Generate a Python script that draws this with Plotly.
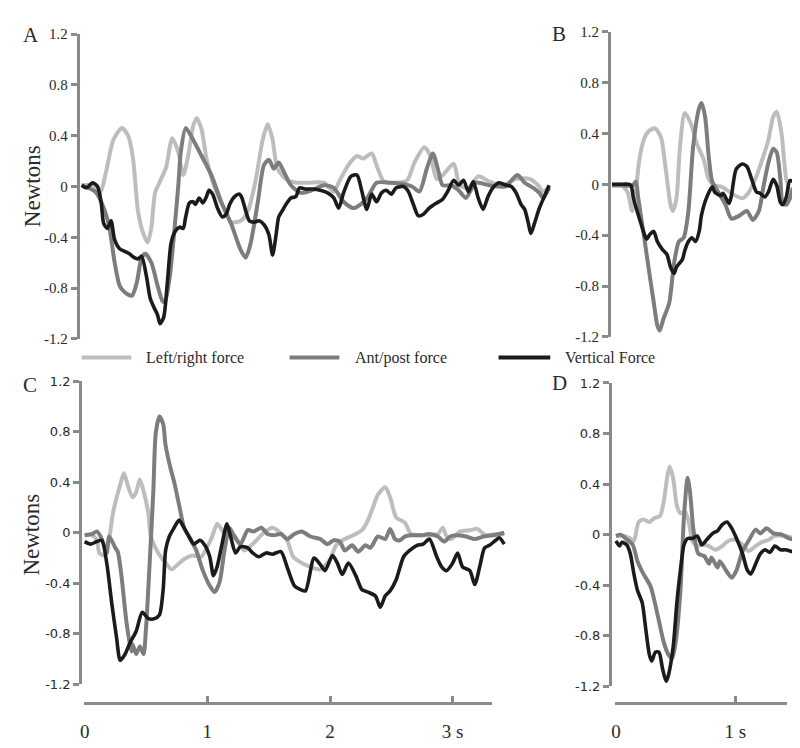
import plotly.graph_objects as go

# ---------------- data (time in s, force in N) ----------------
a_lr = [(0,0.01),(0.08,0.01),(0.15,-0.05),(0.20,0.12),(0.26,0.37),(0.33,0.46),(0.38,0.40),(0.42,0.22),
        (0.46,-0.19),(0.50,-0.36),(0.54,-0.44),(0.57,-0.32),(0.60,-0.05),(0.65,0.06),(0.69,0.15),(0.74,0.38),
        (0.79,0.27),(0.83,0.09),(0.87,0.24),(0.91,0.47),(0.94,0.54),(0.98,0.45),(1.02,0.22),(1.08,0.01),
        (1.17,-0.19),(1.22,-0.28),(1.30,-0.27),(1.36,-0.19),(1.42,0.04),(1.48,0.37),(1.52,0.49),(1.56,0.37),
        (1.60,0.14),(1.68,0.05),(1.76,0.03),(1.86,0.03),(1.98,0.03),(2.06,-0.04),(2.11,0.05),(2.18,0.17),
        (2.25,0.24),(2.30,0.22),(2.37,0.26),(2.42,0.14),(2.47,0.04),(2.57,0.03),(2.66,0.05),(2.72,0.19),
        (2.80,0.31),(2.85,0.24),(2.90,0.06),(2.95,0.09),(3.04,0.18),(3.09,0.01),(3.16,-0.01),(3.24,0.08),
        (3.33,0.04),(3.44,0.01),(3.55,0.06),(3.66,0.06),(3.73,0.01),(3.77,-0.04),(3.82,0.0)]
a_ap = [(0,0.01),(0.11,-0.04),(0.16,-0.12),(0.22,-0.29),(0.27,-0.60),(0.31,-0.78),(0.35,-0.83),(0.41,-0.86),
        (0.45,-0.76),(0.49,-0.56),(0.52,-0.53),(0.57,-0.60),(0.62,-0.78),(0.66,-0.90),(0.68,-0.91),(0.72,-0.71),
        (0.76,-0.32),(0.79,0.01),(0.81,0.27),(0.85,0.46),(0.91,0.37),(0.98,0.24),(1.06,0.09),(1.14,-0.12),
        (1.22,-0.29),(1.30,-0.50),(1.34,-0.56),(1.38,-0.45),(1.44,-0.12),(1.49,0.17),(1.53,0.21),(1.57,0.14),
        (1.61,0.19),(1.65,0.12),(1.71,0.01),(1.79,-0.05),(1.88,-0.03),(1.98,0.01),(2.06,-0.01),(2.14,-0.12),
        (2.22,-0.17),(2.28,-0.14),(2.34,-0.08),(2.41,0.03),(2.52,0.03),(2.63,0.02),(2.70,0.0),(2.76,-0.04),
        (2.82,0.14),(2.87,0.26),(2.91,0.14),(2.95,0.01),(3.02,0.01),(3.08,-0.03),(3.14,-0.09),(3.22,0.03),
        (3.33,0.01),(3.46,0.0),(3.56,0.09),(3.62,0.03),(3.69,-0.01),(3.74,-0.05),(3.77,-0.09),(3.82,-0.01)]
a_vt = [(0,0.01),(0.04,-0.01),(0.09,0.03),(0.13,0.0),(0.16,-0.13),(0.18,-0.29),(0.21,-0.33),(0.24,-0.27),
        (0.27,-0.42),(0.31,-0.49),(0.35,-0.51),(0.39,-0.53),(0.43,-0.56),(0.46,-0.57),(0.49,-0.55),(0.53,-0.71),
        (0.56,-0.88),(0.59,-0.95),(0.62,-1.01),(0.64,-1.08),(0.67,-1.03),(0.70,-0.76),(0.73,-0.45),(0.76,-0.36),
        (0.80,-0.32),(0.83,-0.33),(0.85,-0.24),(0.88,-0.13),(0.91,-0.12),(0.93,-0.14),(0.96,-0.09),(0.99,-0.13),
        (1.02,-0.08),(1.04,-0.03),(1.07,-0.06),(1.11,-0.17),(1.15,-0.24),(1.18,-0.22),(1.21,-0.14),(1.25,-0.08),
        (1.29,-0.06),(1.31,-0.09),(1.34,-0.19),(1.37,-0.27),(1.41,-0.28),(1.45,-0.27),(1.49,-0.30),(1.53,-0.38),
        (1.56,-0.54),(1.59,-0.37),(1.61,-0.24),(1.64,-0.19),(1.67,-0.14),(1.71,-0.09),(1.75,-0.08),(1.78,-0.01),
        (1.83,-0.02),(1.89,-0.02),(1.95,-0.03),(2.01,-0.05),(2.06,-0.09),(2.10,-0.17),(2.14,-0.05),(2.20,0.08),
        (2.25,0.09),(2.29,-0.04),(2.33,-0.18),(2.37,-0.06),(2.41,-0.12),(2.45,-0.05),(2.49,-0.03),(2.53,-0.06),
        (2.57,-0.01),(2.63,0.0),(2.67,-0.04),(2.71,-0.14),(2.75,-0.23),(2.79,-0.22),(2.84,-0.17),(2.90,-0.13),
        (2.95,-0.10),(2.99,-0.04),(3.04,0.05),(3.08,0.01),(3.12,0.05),(3.16,-0.04),(3.20,0.04),(3.24,-0.09),
        (3.28,-0.18),(3.32,-0.08),(3.36,-0.01),(3.41,0.03),(3.47,0.01),(3.51,0.0),(3.55,-0.05),(3.59,-0.14),
        (3.62,-0.18),(3.65,-0.29),(3.67,-0.37),(3.70,-0.29),(3.74,-0.17),(3.78,-0.08),(3.82,0.01)]

b_lr = [(0,-0.01),(0.07,0.0),(0.13,-0.06),(0.17,-0.21),(0.20,-0.05),(0.23,0.20),(0.27,0.36),(0.31,0.42),
        (0.36,0.44),(0.41,0.37),(0.45,0.12),(0.49,-0.16),(0.51,-0.21),(0.54,-0.11),(0.57,0.30),(0.61,0.56),
        (0.66,0.48),(0.71,0.32),(0.77,0.19),(0.81,0.04),(0.86,-0.01),(0.92,-0.02),(1.00,-0.07),(1.09,-0.11),
        (1.14,-0.07),(1.20,0.04),(1.25,0.17),(1.31,0.35),(1.35,0.53),(1.38,0.57),(1.42,0.40),(1.46,0.04),
        (1.50,-0.06),(1.56,-0.01),(1.57,-0.02)]
b_ap = [(0,-0.01),(0.09,-0.01),(0.17,-0.01),(0.20,0.02),(0.22,-0.11),(0.27,-0.42),(0.31,-0.68),(0.35,-0.93),
        (0.38,-1.11),(0.40,-1.15),(0.43,-1.06),(0.48,-0.93),(0.52,-0.62),(0.56,-0.45),(0.60,-0.42),(0.64,-0.21),
        (0.68,0.30),(0.73,0.60),(0.75,0.64),(0.78,0.53),(0.81,0.22),(0.84,0.02),(0.89,-0.06),(0.95,-0.16),
        (1.00,-0.27),(1.06,-0.25),(1.13,-0.21),(1.18,-0.28),(1.23,-0.21),(1.27,-0.01),(1.31,0.17),(1.35,0.28),
        (1.38,0.25),(1.41,0.04),(1.43,-0.15),(1.46,-0.16),(1.49,-0.11),(1.53,-0.01),(1.57,-0.02)]
b_vt = [(0,0.0),(0.06,0.0),(0.14,0.0),(0.16,-0.01),(0.18,-0.11),(0.23,-0.27),(0.27,-0.39),(0.29,-0.43),
        (0.32,-0.39),(0.35,-0.37),(0.38,-0.45),(0.42,-0.51),(0.46,-0.55),(0.49,-0.65),(0.52,-0.70),(0.54,-0.65),
        (0.59,-0.59),(0.61,-0.52),(0.64,-0.45),(0.67,-0.42),(0.70,-0.45),(0.73,-0.37),(0.75,-0.24),(0.79,-0.11),
        (0.84,-0.02),(0.86,-0.06),(0.91,-0.09),(0.93,-0.07),(0.98,-0.15),(1.00,-0.09),(1.04,0.12),(1.09,0.16),
        (1.13,0.14),(1.17,0.04),(1.21,-0.06),(1.24,-0.07),(1.28,-0.10),(1.31,-0.06),(1.35,0.04),(1.38,-0.01),
        (1.41,-0.14),(1.43,-0.16),(1.46,-0.10),(1.49,0.03),(1.52,0.02),(1.54,-0.02),(1.57,-0.02)]

c_lr = [(0,-0.02),(0.06,-0.02),(0.10,-0.06),(0.12,-0.16),(0.16,-0.18),(0.20,-0.05),(0.23,0.15),(0.29,0.38),
        (0.32,0.47),(0.35,0.38),(0.39,0.28),(0.42,0.32),(0.45,0.42),(0.48,0.33),(0.52,0.15),(0.54,-0.03),
        (0.60,-0.16),(0.66,-0.24),(0.71,-0.29),(0.76,-0.25),(0.81,-0.21),(0.88,-0.18),(0.95,-0.19),(1.00,-0.11),
        (1.04,-0.03),(1.08,0.07),(1.12,0.02),(1.16,-0.03),(1.21,-0.01),(1.30,-0.14),(1.38,-0.08),(1.46,0.0),
        (1.53,0.04),(1.57,0.02),(1.65,-0.06),(1.70,-0.19),(1.77,-0.24),(1.84,-0.27),(1.92,-0.29),(2.00,-0.21),
        (2.05,-0.10),(2.12,-0.05),(2.19,-0.02),(2.26,0.02),(2.31,0.10),(2.35,0.20),(2.39,0.30),(2.45,0.36),
        (2.49,0.28),(2.54,0.12),(2.61,0.08),(2.66,-0.01),(2.75,-0.02),(2.81,-0.02),(2.88,-0.01),(2.92,0.04),
        (2.95,-0.03),(2.99,-0.05),(3.06,0.01),(3.14,0.02),(3.20,0.03),(3.27,-0.02),(3.36,-0.01),(3.42,-0.01)]
c_ap = [(0,-0.02),(0.06,-0.01),(0.10,0.01),(0.14,-0.05),(0.18,-0.16),(0.20,-0.03),(0.25,-0.12),(0.27,-0.15),
        (0.30,-0.34),(0.34,-0.70),(0.38,-0.94),(0.39,-0.88),(0.42,-0.96),(0.45,-0.90),(0.48,-0.96),(0.50,-0.76),
        (0.53,-0.24),(0.56,0.33),(0.58,0.79),(0.61,0.92),(0.64,0.86),(0.66,0.69),(0.70,0.51),(0.73,0.40),
        (0.77,0.22),(0.81,0.04),(0.85,-0.03),(0.91,-0.14),(0.96,-0.29),(1.02,-0.42),(1.06,-0.47),(1.10,-0.39),
        (1.14,-0.14),(1.18,0.04),(1.22,-0.03),(1.27,-0.09),(1.33,0.02),(1.38,0.01),(1.44,0.04),(1.49,-0.01),
        (1.54,-0.02),(1.60,-0.01),(1.65,-0.05),(1.71,-0.01),(1.77,0.01),(1.84,-0.03),(1.92,-0.05),(1.98,-0.09),
        (2.03,-0.06),(2.08,-0.07),(2.12,-0.14),(2.18,-0.10),(2.23,-0.15),(2.29,-0.10),(2.33,-0.12),(2.39,-0.03),
        (2.45,-0.05),(2.49,0.03),(2.53,-0.05),(2.57,-0.06),(2.61,-0.03),(2.66,-0.02),(2.75,-0.02),(2.81,-0.01),
        (2.88,-0.03),(2.93,-0.07),(2.98,-0.03),(3.03,-0.02),(3.11,-0.03),(3.18,-0.05),(3.25,-0.03),(3.33,-0.02),
        (3.42,0.0)]
c_vt = [(0,-0.07),(0.05,-0.09),(0.10,-0.07),(0.14,-0.06),(0.18,-0.24),(0.22,-0.55),(0.26,-0.83),(0.29,-1.01),
        (0.33,-0.96),(0.37,-0.87),(0.42,-0.78),(0.47,-0.63),(0.52,-0.68),(0.57,-0.68),(0.61,-0.65),(0.64,-0.45),
        (0.66,-0.14),(0.69,-0.03),(0.73,0.04),(0.77,0.10),(0.81,0.04),(0.85,-0.03),(0.89,-0.09),(0.94,-0.06),
        (0.98,-0.10),(1.02,-0.19),(1.05,-0.34),(1.08,-0.27),(1.12,-0.09),(1.16,0.07),(1.19,-0.03),(1.23,-0.16),
        (1.27,-0.11),(1.33,-0.12),(1.37,-0.16),(1.42,-0.19),(1.48,-0.16),(1.53,-0.17),(1.60,-0.15),(1.65,-0.27),
        (1.71,-0.42),(1.76,-0.45),(1.80,-0.46),(1.87,-0.20),(1.92,-0.25),(1.96,-0.30),(2.02,-0.18),(2.06,-0.24),
        (2.10,-0.33),(2.15,-0.24),(2.21,-0.34),(2.26,-0.45),(2.31,-0.47),(2.37,-0.50),(2.41,-0.59),(2.45,-0.50),
        (2.49,-0.46),(2.54,-0.37),(2.60,-0.19),(2.65,-0.14),(2.71,-0.10),(2.76,-0.09),(2.81,-0.05),(2.87,-0.19),
        (2.91,-0.27),(2.95,-0.30),(3.00,-0.24),(3.04,-0.16),(3.08,-0.27),(3.14,-0.30),(3.18,-0.41),(3.22,-0.27),
        (3.26,-0.12),(3.30,-0.10),(3.35,-0.06),(3.38,-0.04),(3.42,-0.09)]

d_lr = [(0,-0.01),(0.07,-0.01),(0.12,-0.03),(0.15,-0.05),(0.19,0.10),(0.23,0.12),(0.28,0.10),(0.32,0.13),
        (0.37,0.15),(0.40,0.26),(0.43,0.46),(0.45,0.54),(0.48,0.44),(0.51,0.23),(0.54,0.17),(0.58,0.18),
        (0.61,0.10),(0.64,-0.05),(0.68,-0.09),(0.72,-0.08),(0.78,-0.09),(0.83,-0.12),(0.89,-0.09),(0.94,-0.05),
        (1.00,-0.04),(1.06,-0.08),(1.11,-0.13),(1.17,-0.09),(1.22,-0.06),(1.28,-0.04),(1.33,-0.01),(1.42,-0.01),
        (1.50,-0.03)]
d_ap = [(0,-0.01),(0.04,0.0),(0.08,-0.03),(0.14,-0.08),(0.18,-0.21),(0.23,-0.31),(0.29,-0.41),(0.35,-0.64),
        (0.40,-0.85),(0.44,-0.95),(0.47,-0.98),(0.50,-0.85),(0.54,-0.44),(0.57,0.15),(0.60,0.45),(0.62,0.34),
        (0.65,0.03),(0.69,-0.15),(0.74,-0.17),(0.78,-0.23),(0.80,-0.18),(0.85,-0.26),(0.87,-0.21),(0.92,-0.28),
        (0.97,-0.34),(1.01,-0.28),(1.06,-0.13),(1.11,-0.05),(1.17,0.04),(1.21,0.01),(1.26,0.05),(1.32,0.01),
        (1.39,0.0),(1.45,-0.03),(1.50,-0.04)]
d_vt = [(0,-0.05),(0.03,-0.09),(0.05,-0.06),(0.09,-0.08),(0.12,-0.15),(0.15,-0.31),(0.18,-0.44),(0.22,-0.54),
        (0.25,-0.75),(0.28,-0.95),(0.30,-1.00),(0.33,-0.93),(0.36,-0.93),(0.39,-1.06),(0.42,-1.16),(0.44,-1.11),
        (0.48,-0.88),(0.51,-0.54),(0.54,-0.28),(0.57,-0.08),(0.60,-0.03),(0.64,-0.03),(0.68,-0.01),(0.72,-0.08),
        (0.76,-0.04),(0.81,0.01),(0.85,0.03),(0.89,0.08),(0.93,0.10),(0.97,0.05),(1.01,-0.03),(1.06,-0.15),
        (1.10,-0.28),(1.13,-0.31),(1.17,-0.23),(1.21,-0.15),(1.25,-0.12),(1.29,-0.14),(1.33,-0.09),(1.38,-0.12),
        (1.42,-0.12),(1.46,-0.13),(1.50,-0.14)]

series_names = ["Left/right force", "Ant/post force", "Vertical Force"]
y_tickvals = [-1.2, -0.8, -0.4, 0, 0.4, 0.8, 1.2]
y_ticktext = ["-1.2", "-0.8", "-0.4", "0", "0.4", "0.8", "1.2"]
c_xticks = [0, 1, 2, 3]
c_xticktext = ["0", "1", "2", "3 s"]
d_xticks = [0, 1]
d_xticktext = ["0", "1 s"]

# ---------------- layout ----------------
W, H = 800, 748
def PX(x): return x / W
def PY(y): return 1 - y / H

LIGHT, MID, DARK = "#bdbdbd", "#7d7d7d", "#1b1b1b"
AXIS = "#8a8a8a"
TXT = "#2a2a2a"
SERIF = "Liberation Serif, Times New Roman, serif"
SANS = "DejaVu Sans, sans-serif"

# pixel geometry of each panel: y-axis line x, plot right edge, pixel of t=0, px per s, y of 1.2, y of -1.2
geo = {
    1: dict(xl=68, xr=548, t0=70, k=123.0, yt=18.5, yb=330, font=SERIF, fs=15),
    2: dict(xl=602, xr=797, t0=603, k=120.0, yt=16, yb=328, font=SERIF, fs=15),
    3: dict(xl=70.5, xr=500, t0=73, k=123.3, yt=373, yb=683, font=SANS, fs=13),
    4: dict(xl=603, xr=797, t0=607, k=120.0, yt=375, yb=685, font=SANS, fs=13),
}
data = {1: (a_lr, a_ap, a_vt), 2: (b_lr, b_ap, b_vt), 3: (c_lr, c_ap, c_vt), 4: (d_lr, d_ap, d_vt)}
colors = [LIGHT, MID, DARK]
widths = [4, 4, 3.6]

fig = go.Figure()
layout = {}
for i, g in geo.items():
    sx = "" if i == 1 else str(i)
    for s, col, w in zip(data[i], colors, widths):
        fig.add_trace(go.Scatter(
            x=[p[0] for p in s], y=[p[1] for p in s], mode="lines",
            line=dict(color=col, width=w, shape="spline", smoothing=0.7),
            xaxis="x" + sx, yaxis="y" + sx, showlegend=False, hoverinfo="skip"))
    layout["xaxis" + sx] = dict(
        domain=[PX(g["xl"]), PX(g["xr"])],
        range=[(g["xl"] - g["t0"]) / g["k"], (g["xr"] - g["t0"]) / g["k"]],
        showline=False, showticklabels=False, ticks="", showgrid=False, zeroline=False,
        anchor="y" + sx)
    layout["yaxis" + sx] = dict(
        domain=[PY(g["yb"]), PY(g["yt"])], range=[-1.2, 1.2], anchor="x" + sx,
        tickmode="array", tickvals=y_tickvals, ticktext=y_ticktext,
        ticks="outside", ticklen=6, tickwidth=2.5, tickcolor=AXIS,
        showline=True, linewidth=3, linecolor=AXIS, showgrid=False, zeroline=False,
        tickfont=dict(family=g["font"], size=g["fs"], color=TXT))

# visible time axes for C and D, each on its own thin strip (y7 / y8) so it never covers the curves
for ax, ystrip, g, x0, x1, tv, tt in [(5, 7, geo[3], 72, 482, c_xticks, c_xticktext),
                                        (6, 8, geo[4], 606, 779, d_xticks, d_xticktext)]:
    fig.add_trace(go.Scatter(x=[0], y=[0], mode="lines", xaxis="x%d" % ax, yaxis="y%d" % ystrip,
                             showlegend=False, hoverinfo="skip", line=dict(width=0)))
    layout["yaxis%d" % ystrip] = dict(domain=[PY(701), PY(695)], range=[-1, 1], anchor="x%d" % ax,
                                      showline=False, showticklabels=False, ticks="",
                                      showgrid=False, zeroline=False)
    layout["xaxis%d" % ax] = dict(
        domain=[PX(x0), PX(x1)], range=[(x0 - g["t0"]) / g["k"], (x1 - g["t0"]) / g["k"]],
        anchor="free", position=PY(702), tickvals=tv, ticktext=tt, ticks="inside", ticklen=6,
        tickwidth=2.5, tickcolor=AXIS, showline=True, linewidth=3, linecolor=AXIS, showgrid=False,
        zeroline=False, tickfont=dict(family=SERIF, size=19, color=TXT), ticklabelstandoff=10)

annotations = []
for txt, x, y in [("A", 19, 19), ("B", 550, 18), ("C", 18, 377), ("D", 550, 375)]:
    annotations.append(dict(text=txt, x=PX(x), y=PY(y), xref="paper", yref="paper", showarrow=False,
                            xanchor="center", yanchor="middle",
                            font=dict(family=SERIF, size=21, color=TXT)))
for y in [174, 530]:
    annotations.append(dict(text="Newtons", x=PX(20), y=PY(y), xref="paper", yref="paper",
                            showarrow=False, textangle=-90, xanchor="center", yanchor="middle",
                            font=dict(family=SERIF, size=23, color=TXT)))

# legend (drawn manually to match the original placement)
shapes = []
for name, col, w, lx0, lx1, tx in zip(series_names, colors, widths,
                                       [70, 279, 489], [120, 329, 541], [133, 343, 554]):
    shapes.append(dict(type="line", xref="paper", yref="paper", x0=PX(lx0), x1=PX(lx1),
                       y0=PY(349), y1=PY(349), line=dict(color=col, width=4)))
    annotations.append(dict(text=name, x=PX(tx), y=PY(349), xref="paper", yref="paper",
                            showarrow=False, xanchor="left", yanchor="middle",
                            font=dict(family=SERIF, size=16, color=TXT)))

fig.update_layout(width=W, height=H, margin=dict(l=0, r=0, t=0, b=0), autosize=False,
                  paper_bgcolor="white", plot_bgcolor="white",
                  annotations=annotations, shapes=shapes, showlegend=False)
fig.update_layout(layout)

fig.write_html("out.html")
